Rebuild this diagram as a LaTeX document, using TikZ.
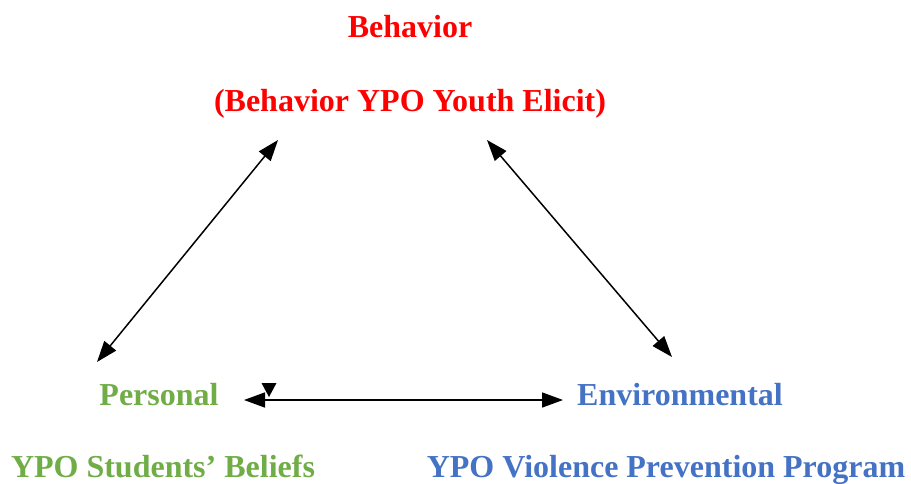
\documentclass[tikz,border=0pt]{standalone}
\usepackage{fontspec}
\setmainfont{Liberation Serif}
\usetikzlibrary{arrows.meta}
\definecolor{behred}{RGB}{255,0,0}
\definecolor{persgreen}{RGB}{112,173,71}
\definecolor{envblue}{RGB}{68,114,196}
\begin{document}
\begin{tikzpicture}[x=1pt,y=-1pt,
  lbl/.style={font=\fontsize{32}{38}\selectfont\bfseries, inner sep=0pt, anchor=base},
  link/.style={line width=1.5pt, {Triangle[length=21pt,width=15pt]}-{Triangle[length=21pt,width=15pt]}}]
\useasboundingbox (0,0) rectangle (911,483);
\node[lbl, text=behred] (beh) at (410,37) {Behavior};
\node[lbl, text=behred] (behsub) at (410,111) {(Behavior YPO Youth Elicit)};
\node[lbl, text=persgreen] (pers) at (159,405) {Personal};
\node[lbl, text=envblue] (env) at (680,405) {Environmental};
\node[lbl, text=persgreen] (perssub) at (163,477) {YPO Students’ Beliefs};
\node[lbl, text=envblue] (envsub) at (666,477) {YPO Violence Prevention Program};
\coordinate (a1) at (97,362);
\coordinate (a2) at (278,140);
\coordinate (b1) at (487,140);
\coordinate (b2) at (672,357);
\coordinate (c1) at (244,400);
\coordinate (c2) at (563,400);
\draw[link] (a1) -- (a2);
\draw[link] (b1) -- (b2);
\draw[link] (c1) -- (c2);
\coordinate (tri) at (269,397);
\fill (tri) -- ++(-7.5,-14) -- ++(15,0) -- cycle;
\end{tikzpicture}
\end{document}
